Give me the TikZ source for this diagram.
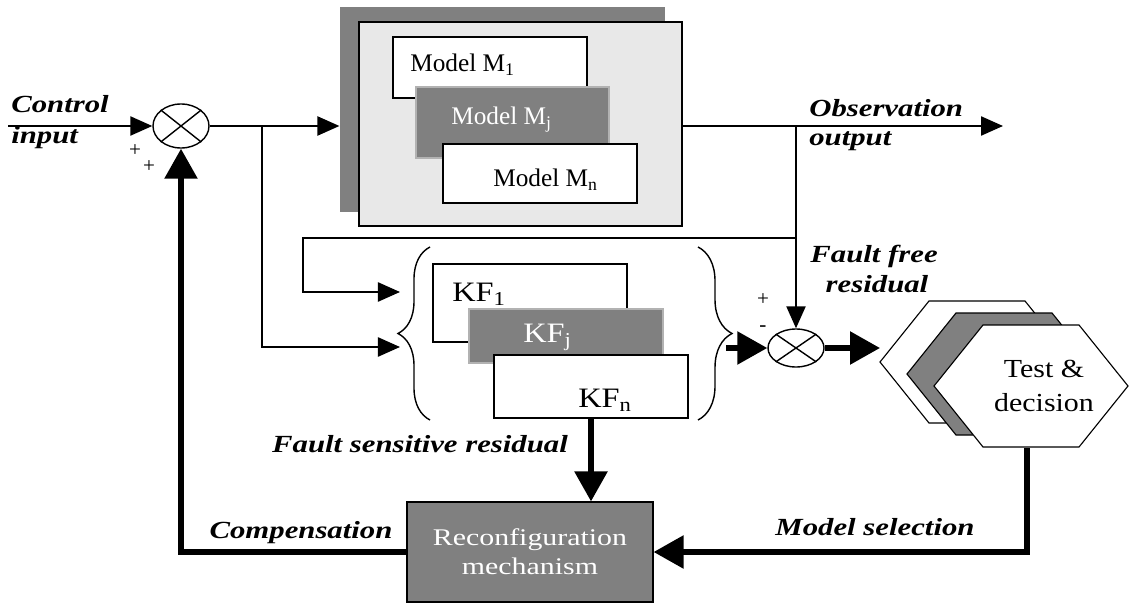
\documentclass[tikz,border=0pt]{standalone}
\usepackage{fontspec}
\setmainfont{Liberation Serif}
\newfontfamily\widefont{Liberation Serif}[FakeStretch=1.25]
\newfontfamily\midfont{Liberation Serif}[FakeStretch=1.15]
\usetikzlibrary{arrows.meta,positioning,shapes.geometric,calc,decorations.pathreplacing}
\definecolor{shadegray}{RGB}{128,128,128}
\definecolor{panelgray}{RGB}{232,232,232}

\begin{document}
\begin{tikzpicture}[
    x=0.025cm, y=-0.025cm,
    box/.style={rectangle, draw, line width=0.8pt, inner sep=0pt},
    darkbox/.style={box, draw=gray!60, fill=shadegray},
    sumnode/.style={ellipse, draw, line width=1pt, fill=white, inner sep=0pt,
                    minimum width=1.4cm, minimum height=1.1cm},
    arrow/.style={-{Triangle[length=0.55cm, width=0.48cm]}, line width=1.2pt},
    fatarrow/.style={-{Triangle[length=0.75cm, width=0.8cm]}, line width=4pt},
    lbl/.style={font=\widefont\bfseries\itshape\fontsize{17.5}{20}\selectfont, inner sep=0pt},
    modeltext/.style={font=\fontsize{18}{20}\selectfont, inner sep=0pt, anchor=base west},
    kftext/.style={font=\midfont\fontsize{20}{22}\selectfont, inner sep=0pt, anchor=base west},
    sign/.style={font=\fontsize{15}{16}\selectfont, inner sep=0pt, anchor=base}
]
\useasboundingbox (0,0) rectangle (1130,603);

% Model bank
\node[box, draw=none, fill=shadegray, minimum width=8.125cm, minimum height=5.125cm] (shadow) at (502.5,109.5) {};
\node[box, line width=1pt, fill=panelgray, minimum width=8.075cm, minimum height=5.1cm] (bank) at (520.5,124) {};
\node[box, fill=white, minimum width=4.85cm, minimum height=1.525cm] (m1) at (490,67.5) {};
\node[darkbox, minimum width=4.825cm, minimum height=1.775cm] (mj) at (512.5,122.5) {};
\node[box, fill=white, minimum width=4.85cm, minimum height=1.475cm] (mn) at (540,173.5) {};
\node[modeltext] (m1txt) at (410,72) {Model M\textsubscript{1}};
\node[modeltext, text=white] (mjtxt) at (451,125) {Model M\textsubscript{j}};
\node[modeltext] (mntxt) at (493,187) {Model M\textsubscript{n}};

% Kalman filter bank
\node[box, fill=white, minimum width=4.85cm, minimum height=1.95cm] (kf1) at (530,303) {};
\node[darkbox, minimum width=4.85cm, minimum height=1.35cm] (kfj) at (566,336) {};
\node[box, fill=white, minimum width=4.85cm, minimum height=1.575cm] (kfn) at (591,386.5) {};
\node[kftext] (kf1txt) at (452,301) {KF\textsubscript{1}};
\node[kftext, text=white] (kfjtxt) at (523,342) {KF\textsubscript{j}};
\node[kftext] (kfntxt) at (578,407) {KF\textsubscript{n}};
\draw[line width=1pt, decorate, decoration={brace, amplitude=0.8cm}] (430,420) -- (430,247);
\draw[line width=1pt, decorate, decoration={brace, amplitude=0.85cm}] (698,247) -- (698,420);

% Summing junctions
\node[sumnode] (sum1) at (181,126) {};
\draw[line width=1pt] (sum1.north east) -- (sum1.south west) (sum1.north west) -- (sum1.south east);
\node[sumnode, minimum height=0.95cm] (sum2) at (796,348) {};
\draw[line width=1pt] (sum2.north east) -- (sum2.south west) (sum2.north west) -- (sum2.south east);

% Test & decision
\coordinate (hexc) at (977,362);
\foreach \i/\col in {0/white,1/shadegray,2/white}
  \draw[line width=0.8pt, fill=\col] ($(hexc)+(27*\i,12*\i)$) ++(-97,0) -- ++(49,-61)
    -- ++(96,0) -- ++(49,61) -- ++(-49,61) -- ++(-96,0) -- cycle;
\coordinate (hexf) at (1031,386);
\node[font=\midfont\fontsize{18.5}{24.8}\selectfont, align=center, inner sep=0pt] (decide) at (1044,386) {Test \&\\decision};

% Reconfiguration
\node[box, fill=shadegray, minimum width=6.15cm, minimum height=2.5cm, text=white, align=center,
      font=\widefont\fontsize{17}{20.5}\selectfont] (reconf) at (530,552) {Reconfiguration\\mechanism};

% Thin signal lines
\coordinate (cin) at (8,126);
\coordinate (split) at (262,126);
\coordinate (kfa) at (400,347);
\coordinate (kfb) at (400,292);
\coordinate (obs) at (1003,126);
\coordinate (tap) at (796,126);
\coordinate (tap2) at (796,238);
\draw[arrow] (cin) -- (sum1);
\draw[arrow] (sum1) -- (sum1 -| shadow.west);
\draw[arrow] (split) |- (kfa);
\draw[arrow] (bank.east |- sum1) -- (obs);
\draw[arrow] (tap) -- (sum2);
\draw[arrow] (tap2) -| ($(kfb)+(-97,0)$) -- (kfb);

% Thick residual and feedback lines
\coordinate (kfout) at (726,348);
\coordinate (hexl) at (880,348);
\draw[fatarrow] (kfout) -- (sum2);
\draw[fatarrow] (sum2) -- (hexl);
\draw[fatarrow] (kfn.south) -- (kfn.south |- reconf.north);
\draw[fatarrow] ($(hexf)+(-4,62)$) |- (reconf.east);
\draw[fatarrow] (reconf.west) -| (sum1.south);

% Labels
\node[lbl, anchor=base west] (ctl) at (11,113) {Control};
\node[lbl, anchor=base west] (inp) at (11,144) {input};
\node[sign] (p1) at (135,157) {+};
\node[sign] (p2) at (149,173) {+};
\node[lbl, anchor=base west] (obs1) at (809,117) {Observation};
\node[lbl, anchor=base west] (obs2) at (809,146) {output};
\node[lbl, anchor=base] (ff1) at (874,263) {Fault free};
\node[lbl, anchor=base] (ff2) at (877,293) {residual};
\node[sign] (p3) at (763,306) {+};
\node[sign] (m3) at (763,331) {-};
\node[lbl, anchor=base] (fsr) at (420,452) {Fault sensitive residual};
\node[lbl, anchor=base] (comp) at (301,538) {Compensation};
\node[lbl, anchor=base] (msel) at (875,535) {Model selection};

\end{tikzpicture}
\end{document}
